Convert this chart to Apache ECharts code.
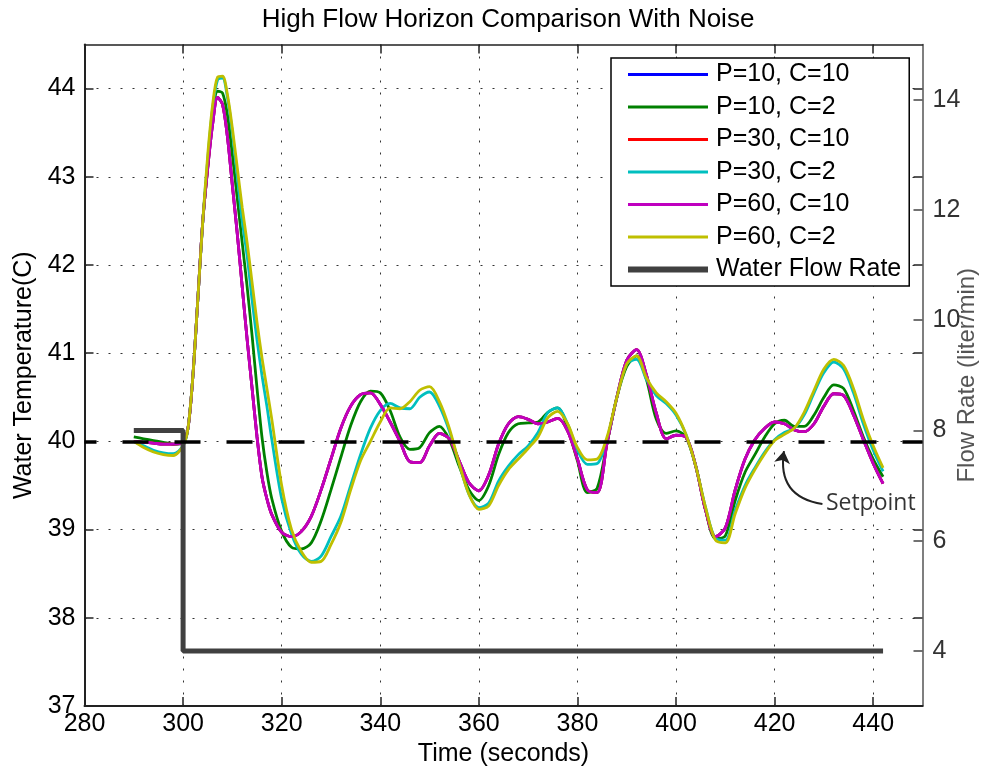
<!DOCTYPE html>
<html>
<head>
<meta charset="utf-8">
<title>High Flow Horizon Comparison With Noise</title>
<script src="https://cdn.jsdelivr.net/npm/echarts@6/dist/echarts.min.js"></script>
<style>
  html, body { margin: 0; padding: 0; background: #fff; }
  #main { width: 995px; height: 775px; }
</style>
</head>
<body>
<div id="main"></div>
<script>
// sample times (seconds)
var times = [290, 292, 294, 296, 298, 300,
  301, 302, 303, 304, 305, 306, 307, 308, 309, 310, 311, 312, 313, 314, 315, 316, 317, 318,
  320, 322, 324, 326, 328, 330, 332, 334, 336, 338, 340, 342, 344, 346, 348, 350,
  352, 354, 356, 358, 360, 362, 364, 366, 368, 370, 372, 374, 376, 378, 380,
  382, 384, 386, 388, 390, 392, 394, 396, 398, 400, 402, 404, 406, 408, 410,
  412, 414, 416, 418, 420, 422, 424, 426, 428, 430, 432, 434, 436, 438, 440, 442];

// water temperature (C)
var tempC10 = [40.00, 39.99, 39.98, 39.97, 39.97, 39.99,
  40.15, 40.75, 41.62, 42.5, 43.1, 43.6, 43.9, 43.82, 43.45, 42.9, 42.35, 41.75, 41.15, 40.6, 40.05, 39.6, 39.35, 39.17,
  38.97, 38.92, 38.98, 39.15, 39.45, 39.8, 40.15, 40.4, 40.53, 40.55, 40.42, 40.22, 40.0, 39.77, 39.76, 39.95,
  40.09, 40.03, 39.78, 39.53, 39.44, 39.62, 39.97, 40.2, 40.28, 40.25, 40.2, 40.22, 40.26, 40.12, 39.8,
  39.45, 39.42, 39.98, 40.5, 40.92, 41.04, 40.75, 40.32, 40.03, 40.07, 40.05, 39.72, 39.22, 38.92, 39.02,
  39.45, 39.8, 40.02, 40.15, 40.22, 40.2, 40.13, 40.11, 40.2, 40.4, 40.54, 40.52, 40.3, 40.02, 39.75, 39.52];

var tempP10C2 = [40.05, 40.03, 40.01, 39.99, 39.97, 39.98,
  40.15, 40.75, 41.62, 42.5, 43.12, 43.7, 43.97, 43.95, 43.7, 43.25, 42.75, 42.25, 41.75, 41.2, 40.6, 40.05, 39.65, 39.35,
  38.98, 38.8, 38.78, 38.85, 39.1, 39.45, 39.82, 40.18, 40.45, 40.57, 40.55, 40.35, 40.05, 39.91, 39.93, 40.1,
  40.17, 40.02, 39.72, 39.45, 39.33, 39.5, 39.85, 40.1, 40.2, 40.21, 40.22, 40.33, 40.38, 40.15, 39.78,
  39.42, 39.47, 39.98, 40.5, 40.85, 40.97, 40.7, 40.25, 40.09, 40.12, 40.05, 39.72, 39.22, 38.9, 38.93,
  39.33, 39.65, 39.85, 40.05, 40.2, 40.24, 40.17, 40.17, 40.3, 40.5, 40.64, 40.6, 40.35, 40.05, 39.8, 39.6];

var tempP30C2 = [40.0, 39.95, 39.9, 39.87, 39.86, 39.95,
  40.15, 40.75, 41.62, 42.5, 43.2, 43.78, 44.1, 44.12, 43.9, 43.5, 43.0, 42.5, 42.1, 41.6, 41.15, 40.75, 40.4, 40.02,
  39.35, 38.95, 38.72, 38.64, 38.7, 38.92, 39.15, 39.5, 39.85, 40.15, 40.35, 40.43, 40.38, 40.37, 40.5, 40.56,
  40.4, 40.12, 39.75, 39.4, 39.25, 39.3, 39.55, 39.72, 39.85, 39.95, 40.1, 40.33, 40.38, 40.2, 39.9,
  39.74, 39.75, 40.02, 40.5, 40.88, 40.93, 40.7, 40.52, 40.43, 40.3, 40.08, 39.72, 39.25, 38.9, 38.88,
  39.22, 39.5, 39.7, 39.88, 40.02, 40.1, 40.15, 40.3, 40.55, 40.78, 40.9, 40.82, 40.55, 40.2, 39.9, 39.66];

var tempP60C2 = [40.0, 39.93, 39.88, 39.85, 39.84, 39.95,
  40.15, 40.75, 41.62, 42.5, 43.25, 43.82, 44.13, 44.14, 43.93, 43.55, 43.1, 42.65, 42.25, 41.8, 41.35, 40.95, 40.6, 40.25,
  39.5, 39.0, 38.75, 38.63, 38.64, 38.83, 39.08, 39.45, 39.78, 40.0, 40.22, 40.38, 40.37, 40.45, 40.58, 40.62,
  40.45, 40.15, 39.75, 39.4, 39.23, 39.27, 39.5, 39.68, 39.8, 39.92, 40.05, 40.27, 40.34, 40.2, 39.93,
  39.79, 39.8, 40.05, 40.5, 40.88, 40.97, 40.72, 40.55, 40.45, 40.32, 40.08, 39.72, 39.25, 38.88, 38.85,
  39.18, 39.47, 39.68, 39.86, 40.01, 40.08, 40.15, 40.33, 40.58, 40.82, 40.93, 40.86, 40.6, 40.25, 39.95, 39.7];

// water flow rate (liter/min)
var flowTimes = [290, 300, 300, 442];
var flowRates = [8, 8, 4, 4];

var setpoint = 40;
var setpointLabelAt = [430.3, 39.3];
var arrowTail = [429.7, 39.29];
var arrowHead = [421.9, 39.89];

var timeTicks = [280, 300, 320, 340, 360, 380, 400, 420, 440];
var tempTicks = [37, 38, 39, 40, 41, 42, 43, 44];
var flowTicks = [4, 6, 8, 10, 12, 14];

var font = '"Liberation Sans", Arial, sans-serif';

function pairs(xs, ys) {
  return xs.map(function (x, i) { return [x, ys[i]]; });
}

var tempSeries = [
  { name: 'P=10, C=10', color: '#0000ff', values: tempC10 },
  { name: 'P=10, C=2', color: '#008000', values: tempP10C2 },
  { name: 'P=30, C=10', color: '#ff0000', values: tempC10 },
  { name: 'P=30, C=2', color: '#00bfbf', values: tempP30C2 },
  { name: 'P=60, C=10', color: '#bf00bf', values: tempC10 },
  { name: 'P=60, C=2', color: '#bfbf00', values: tempP60C2 }
];

var gridLine = { show: true, lineStyle: { color: '#333', width: 1, type: [2, 10] } };

var series = tempSeries.map(function (s) {
  return {
    name: s.name,
    type: 'line',
    xAxisIndex: 0,
    yAxisIndex: 0,
    data: pairs(times, s.values),
    smooth: 0.3,
    symbol: 'none',
    showSymbol: false,
    lineStyle: { color: s.color, width: 2.8 },
    itemStyle: { color: s.color },
    emphasis: { disabled: true }
  };
});

// setpoint dashed line
series[5].markLine = {
  silent: true,
  symbol: 'none',
  label: { show: false },
  lineStyle: { color: '#000', width: 3.5, type: [26, 26], dashOffset: 14 },
  emphasis: { disabled: true },
  data: [{ yAxis: setpoint }]
};

series.push({
  name: 'Water Flow Rate',
  type: 'line',
  xAxisIndex: 0,
  yAxisIndex: 1,
  data: pairs(flowTimes, flowRates),
  symbol: 'none',
  showSymbol: false,
  lineStyle: { color: '#404040', width: 5 },
  itemStyle: { color: '#404040' },
  emphasis: { disabled: true }
});

series.push({
  name: 'arrow',
  type: 'lines',
  coordinateSystem: 'cartesian2d',
  xAxisIndex: 0,
  yAxisIndex: 0,
  silent: true,
  symbol: ['none', 'arrow'],
  symbolSize: 12,
  lineStyle: { color: '#222', width: 2, curveness: 0.5, opacity: 1 },
  data: [{ coords: [arrowTail, arrowHead] }]
});

series.push({
  name: 'setpoint label',
  type: 'scatter',
  xAxisIndex: 0,
  yAxisIndex: 0,
  silent: true,
  symbolSize: 1,
  itemStyle: { color: 'rgba(0,0,0,0)' },
  label: {
    show: true,
    position: 'right',
    distance: 0,
    formatter: 'Setpoint',
    fontFamily: '"Open Sans", sans-serif',
    fontSize: 23,
    color: '#000'
  },
  data: [setpointLabelAt]
});

var legendData = tempSeries.map(function (s) {
  return { name: s.name, lineStyle: { width: 3.2 } };
});
legendData.push({ name: 'Water Flow Rate', lineStyle: { width: 6 } });

var myChart = echarts.init(document.getElementById('main'), null, { renderer: 'canvas' });

var option = {
  animation: false,
  backgroundColor: '#fff',
  title: {
    text: 'High Flow Horizon Comparison With Noise',
    left: 503,
    top: 2,
    textAlign: 'center',
    textStyle: { fontFamily: font, fontSize: 26, fontWeight: 'normal', color: '#000' }
  },
  grid: { left: 84.5, right: 72.5, top: 44.5, bottom: 69, outerBoundsMode: 'none' },
  legend: {
    data: legendData,
    orient: 'vertical',
    left: 611,
    top: 58,
    padding: [4, 8, 4, 14],
    itemWidth: 80,
    itemHeight: 28,
    itemGap: 7.5,
    backgroundColor: '#fff',
    borderColor: '#000',
    borderWidth: 1.5,
    borderRadius: 0,
    selectedMode: false,
    itemStyle: { opacity: 0 },
    textStyle: { fontFamily: font, fontSize: 25, color: '#000', padding: [0, 0, 0, 3] }
  },
  xAxis: [{
    type: 'value',
    min: 280,
    max: 450,
    name: 'Time (seconds)',
    nameLocation: 'middle',
    nameGap: 34,
    nameTextStyle: { fontFamily: font, fontSize: 25, color: '#000' },
    axisLine: { lineStyle: { color: '#222', width: 2 } },
    axisTick: { inside: true, length: 9, customValues: timeTicks, lineStyle: { color: '#222', width: 1.5 } },
    axisLabel: { customValues: timeTicks, margin: 6, fontFamily: font, fontSize: 25, color: '#000' },
    splitLine: gridLine
  }, {
    type: 'value',
    position: 'top',
    min: 280,
    max: 450,
    axisLine: { lineStyle: { color: '#222', width: 1.5 } },
    axisTick: { inside: true, length: 9, customValues: timeTicks, lineStyle: { color: '#222', width: 1.5 } },
    axisLabel: { show: false },
    splitLine: { show: false }
  }],
  yAxis: [{
    type: 'value',
    position: 'left',
    min: 37,
    max: 44.5,
    name: 'Water Temperature(C)',
    nameLocation: 'middle',
    nameRotate: 90,
    nameGap: 48,
    nameMoveOverlap: false,
    nameTextStyle: { fontFamily: font, fontSize: 25, color: '#000' },
    axisLine: { show: true, lineStyle: { color: '#222', width: 2 } },
    axisTick: { show: true, inside: true, length: 9, customValues: tempTicks, lineStyle: { color: '#222', width: 1.5 } },
    axisLabel: { customValues: tempTicks, margin: 9, fontFamily: font, fontSize: 25, color: '#000' },
    splitLine: gridLine
  }, {
    type: 'value',
    position: 'right',
    min: 3,
    max: 15,
    name: 'Flow Rate (liter/min)',
    nameLocation: 'middle',
    nameRotate: 90,
    nameGap: 33,
    nameMoveOverlap: false,
    nameTextStyle: { fontFamily: font, fontSize: 24, color: '#555' },
    axisLine: { show: true, lineStyle: { color: '#555', width: 1.5 } },
    axisTick: { show: true, inside: true, length: 9, customValues: flowTicks, lineStyle: { color: '#444', width: 1.5 } },
    axisLabel: { customValues: flowTicks, margin: 10, fontFamily: font, fontSize: 25, color: '#333' },
    splitLine: { show: false }
  }, {
    type: 'value',
    position: 'right',
    min: 37,
    max: 44.5,
    axisLine: { show: false },
    axisTick: { show: true, inside: true, length: 9, customValues: tempTicks, lineStyle: { color: '#222', width: 1.5 } },
    axisLabel: { show: false },
    splitLine: { show: false }
  }],
  series: series
};

myChart.setOption(option);
</script>
</body>
</html>
